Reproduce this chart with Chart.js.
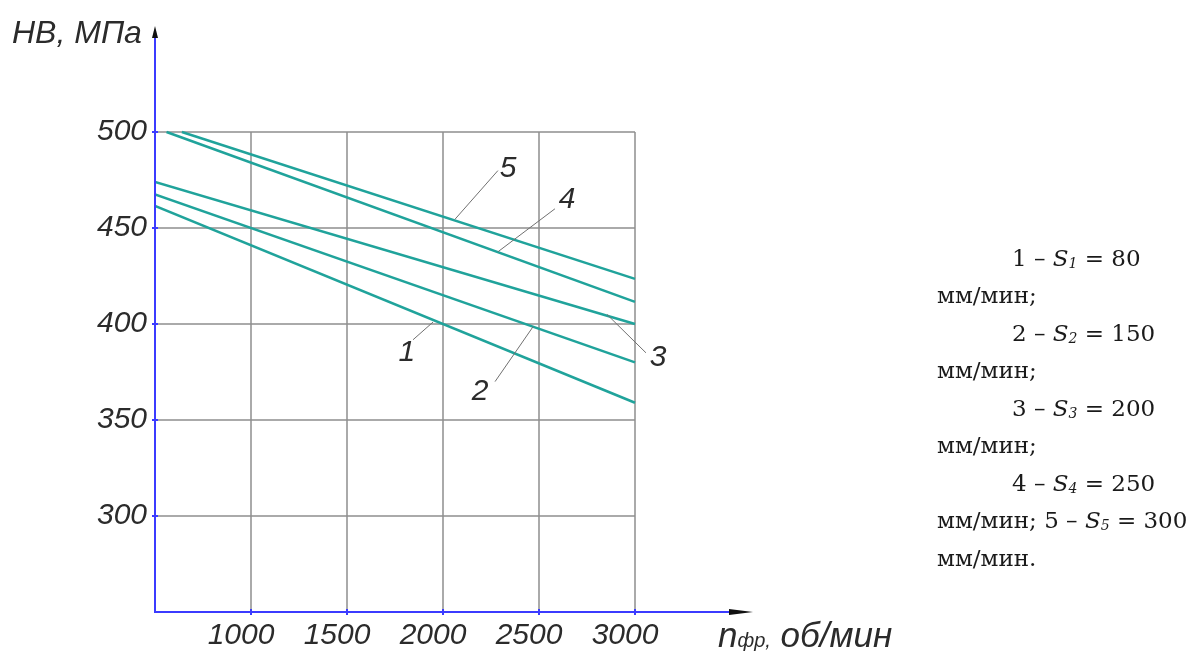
<!DOCTYPE html>
<html>
<head>
<meta charset="utf-8">
<script src="https://cdn.jsdelivr.net/npm/chart.js@4.4.0/dist/chart.umd.min.js"></script>
<style>
    body { margin: 0; background: #fff; }
    #wrap { position: relative; width: 1194px; height: 653px; overflow: hidden; }
    #wrap canvas { position: absolute; left: 0; top: 0; }
    .axt { position: absolute; font-family: "Liberation Sans", Arial, sans-serif; font-style: italic; color: #2b2b2b; line-height: 1; white-space: nowrap; }
    .leg { position: absolute; font-family: "DejaVu Serif", serif; font-size: 23px; color: #1a1a1a; line-height: 1; white-space: nowrap; }
    .sub { font-style: italic; font-size: 14px; position: relative; top: 2px; }
</style>
</head>
<body>
<div id="wrap">
    <canvas id="hbChart" width="1194" height="653"></canvas>
    <div class="axt" style="left:12px; top:16px; font-size:32px;">HB, МПа</div>
    <div class="axt" style="left:718px; top:617px; font-size:35px;">n<span style="font-size:20px">фр,</span> об/мин</div>
    <div id="legendBox"></div>
</div>
<script>
// --- ДАННЫЕ ---
const xTicks = [1000, 1500, 2000, 2500, 3000];
const yTicks = [300, 350, 400, 450, 500];
const curveNames = ['1', '2', '3', '4', '5'];
const feedRates = [80, 150, 200, 250, 300];            // S, мм/мин
// частота вращения фрезы (начало и конец каждой кривой), об/мин
const curveN = [[500, 3000], [500, 3000], [500, 3000], [560, 3000], [640, 3000]];
// твёрдость HB, МПа в тех же точках
const curveHB = [[461.5, 359], [467.5, 380], [474, 400], [500, 411.5], [500, 423.5]];
// выноски с номерами кривых (в единицах осей)
const leaderFrom = [[1948, 401], [2469, 398.6], [2854, 405], [2286, 437.6], [2062, 454.5]];
const leaderTo = [[1844, 391.8], [2271, 370], [3057, 385], [2583, 460], [2286, 479.9]];
const labelAt = [[1812, 385], [2193, 364.8], [3120, 382.5], [2646, 464.7], [2339, 480.9]];

const AX_FONT = '"Liberation Sans", Arial, sans-serif';
const LINE_COLOR = '#20a39b';

// --- ПОДПИСЬ СПРАВА ---
function feedText(i) {
    return `${curveNames[i]} – <i>S</i><span class="sub">${i + 1}</span> = ${feedRates[i]}`;
}
const legendRows = [
    [1012, feedText(0)], [937, 'мм/мин;'],
    [1012, feedText(1)], [937, 'мм/мин;'],
    [1012, feedText(2)], [937, 'мм/мин;'],
    [1012, feedText(3)], [937, 'мм/мин; ' + feedText(4)],
    [937, 'мм/мин.']
];
const legendBox = document.getElementById('legendBox');
legendRows.forEach((row, i) => {
    const d = document.createElement('div');
    d.className = 'leg';
    d.style.left = row[0] + 'px';
    d.style.top = (247 + i * 37.45) + 'px';
    d.innerHTML = row[1];
    legendBox.appendChild(d);
});

// --- ОСИ, СЕТКА, ВЫНОСКИ ---
const decorPlugin = {
    id: 'decor',
    beforeDatasetsDraw(chart) {
        const { ctx, scales: { x, y } } = chart;
        ctx.save();
        ctx.strokeStyle = '#8f8f8f';
        ctx.lineWidth = 1.5;
        ctx.beginPath();
        const x0 = x.getPixelForValue(x.min), x1 = x.getPixelForValue(3000);
        const y0 = y.getPixelForValue(500), y1 = y.getPixelForValue(y.min);
        yTicks.forEach(v => {
            const py = y.getPixelForValue(v);
            ctx.moveTo(x0, py); ctx.lineTo(x1, py);
        });
        xTicks.forEach(v => {
            const px = x.getPixelForValue(v);
            ctx.moveTo(px, y0); ctx.lineTo(px, y1);
        });
        ctx.stroke();
        ctx.restore();
    },
    afterDatasetsDraw(chart) {
        const { ctx, chartArea: a, scales: { x, y } } = chart;
        ctx.save();
        // синие оси
        ctx.strokeStyle = '#3b3bff';
        ctx.lineWidth = 2;
        ctx.beginPath();
        ctx.moveTo(a.left, a.top); ctx.lineTo(a.left, a.bottom); ctx.lineTo(a.right, a.bottom);
        yTicks.forEach(v => { const py = y.getPixelForValue(v); ctx.moveTo(a.left - 3, py); ctx.lineTo(a.left + 3, py); });
        xTicks.forEach(v => { const px = x.getPixelForValue(v); ctx.moveTo(px, a.bottom - 3); ctx.lineTo(px, a.bottom + 3); });
        ctx.stroke();
        // стрелки
        ctx.fillStyle = '#111';
        ctx.beginPath();
        ctx.moveTo(a.left, a.top - 10); ctx.lineTo(a.left - 3, a.top + 2); ctx.lineTo(a.left + 3, a.top + 2); ctx.closePath();
        ctx.moveTo(a.right + 22, a.bottom); ctx.lineTo(a.right - 2, a.bottom - 3); ctx.lineTo(a.right - 2, a.bottom + 3); ctx.closePath();
        ctx.fill();
        // выноски
        ctx.strokeStyle = '#707070';
        ctx.lineWidth = 1;
        ctx.beginPath();
        leaderFrom.forEach((p, i) => {
            ctx.moveTo(x.getPixelForValue(p[0]), y.getPixelForValue(p[1]));
            ctx.lineTo(x.getPixelForValue(leaderTo[i][0]), y.getPixelForValue(leaderTo[i][1]));
        });
        ctx.stroke();
        ctx.fillStyle = '#2b2b2b';
        ctx.font = 'italic 30px ' + AX_FONT;
        ctx.textAlign = 'center';
        ctx.textBaseline = 'middle';
        labelAt.forEach((p, i) => {
            ctx.fillText(curveNames[i], x.getPixelForValue(p[0]), y.getPixelForValue(p[1]));
        });
        ctx.restore();
    }
};

const tickFont = { family: AX_FONT, style: 'italic', size: 30 };

new Chart(document.getElementById('hbChart'), {
    type: 'line',
    data: {
        datasets: curveNames.map((name, i) => ({
            label: name,
            data: curveN[i].map((n, k) => ({ x: n, y: curveHB[i][k] })),
            borderColor: LINE_COLOR,
            borderWidth: 2.5,
            pointRadius: 0,
            fill: false,
            tension: 0
        }))
    },
    options: {
        responsive: false,
        devicePixelRatio: 1,
        animation: false,
        layout: { padding: { left: 0, top: 36, right: 463, bottom: 0 } },
        scales: {
            x: {
                type: 'linear', min: 500, max: 3500,
                afterBuildTicks: s => { s.ticks = xTicks.map(v => ({ value: v })); },
                afterFit: s => { s.height = 41; },
                grid: { display: false, drawTicks: false },
                border: { display: false },
                ticks: {
                    font: tickFont, color: '#2b2b2b', padding: 6, labelOffset: -10, maxRotation: 0, autoSkip: false,
                    callback: v => String(v)
                }
            },
            y: {
                type: 'linear', min: 250, max: 550,
                afterBuildTicks: s => { s.ticks = yTicks.map(v => ({ value: v })); },
                afterFit: s => { s.width = 155; },
                grid: { display: false, drawTicks: false },
                border: { display: false },
                ticks: { font: tickFont, color: '#2b2b2b', padding: 8, autoSkip: false, callback: v => String(v) }
            }
        },
        plugins: { legend: { display: false }, tooltip: { enabled: false } }
    },
    plugins: [decorPlugin]
});
</script>
</body>
</html>
